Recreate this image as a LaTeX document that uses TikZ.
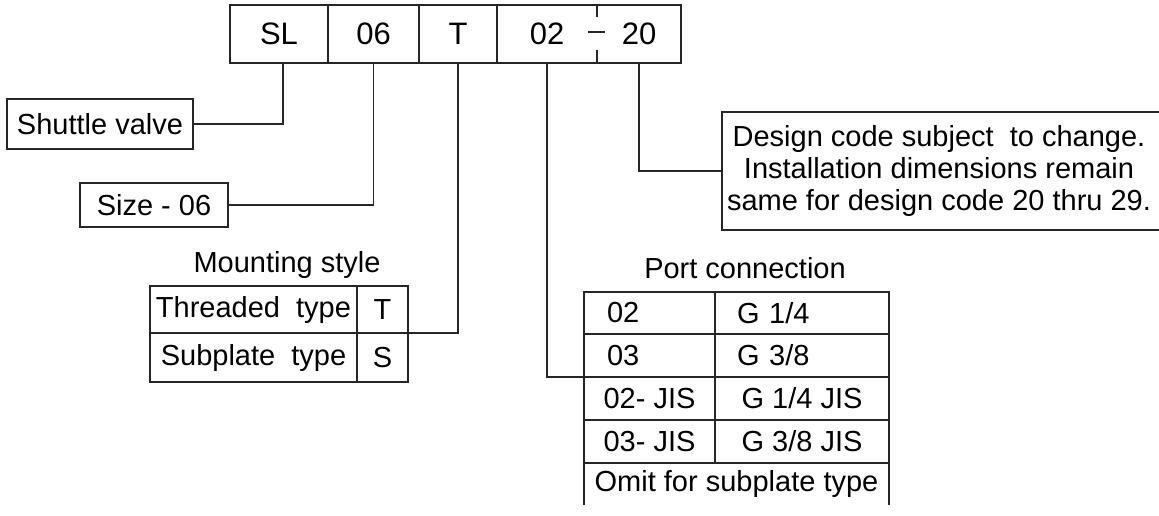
\documentclass[tikz,border=0pt]{standalone}
\usepackage{fontspec}
\setmainfont{Liberation Sans}
\begin{document}
\begin{tikzpicture}[x=0.5pt,y=-0.5pt,
  every node/.style={inner sep=0pt,outer sep=0pt,font=\fontsize{14.5}{16}\selectfont},
  box/.style={draw=black!85,line width=0.65pt},
  codefont/.style={font=\fontsize{15.5}{17}\selectfont},
  conn/.style={draw=black!85,line width=0.65pt}]
\useasboundingbox (0,0) rectangle (1159,515);
\clip (0,0) rectangle (1159,515);
% code boxes
\node[box,codefont,minimum width=49pt,minimum height=29pt] (sl) at (279,34) {SL};
\node[box,codefont,minimum width=45.5pt,minimum height=29pt] (s06) at (373.5,34) {06};
\node[box,codefont,minimum width=39pt,minimum height=29pt] (tc) at (458,34) {T};
\node[box,minimum width=92pt,minimum height=29pt] (c4) at (589,34) {};
\node[codefont,minimum width=50pt,minimum height=29pt] (c02) at (547,34) {02};
\node[codefont,minimum width=42pt,minimum height=29pt] (c20) at (639,34) {20};
\coordinate (dtop) at (597,5);
\coordinate (dbot) at (597,63);
\draw[conn] (dtop) -- ++(0,12);
\draw[conn] (dbot) -- ++(0,-13);
\draw[conn] (588,32) -- (605,32);
% shuttle and size
\node[box,minimum width=93pt,minimum height=25pt] (shuttle) at (100,124) {Shuttle valve};
\node[box,minimum width=74pt,minimum height=22pt] (size) at (154,205) {Size - 06};
% mounting style
\node (mtitle) at (287,265) {Mounting style};
\node[box,minimum width=103.5pt,minimum height=23.5pt] (mt1) at (253.5,309.5) {Threaded\ \ type};
\node[box,minimum width=25.5pt,minimum height=23.5pt] (mt1v) at (382.5,309.5) {T};
\node[box,minimum width=103.5pt,minimum height=24.5pt] (mt2) at (253.5,357.5) {Subplate\ \ type};
\node[box,minimum width=25.5pt,minimum height=24.5pt] (mt2v) at (382.5,357.5) {S};
% port connection
\node (ptitle) at (745,268) {Port connection};
\node[box,minimum height=21pt,text width=42.5pt,inner xsep=11.5pt,align=left] (p1a) at (649.5,313) {02};
\node[box,minimum height=21pt,text width=65pt,inner xsep=11pt,align=left] (p1b) at (802,313) {G 1/4};
\node[box,minimum height=21.5pt,text width=42.5pt,inner xsep=11.5pt,align=left] (p2a) at (649.5,355.5) {03};
\node[box,minimum height=21.5pt,text width=65pt,inner xsep=11pt,align=left] (p2b) at (802,355.5) {G 3/8};
\node[box,minimum height=21.5pt,minimum width=65.5pt] (p3a) at (649.5,398.5) {02- JIS};
\node[box,minimum height=21.5pt,minimum width=87pt] (p3b) at (802,398.5) {G 1/4 JIS};
\node[box,minimum height=21.5pt,minimum width=65.5pt] (p4a) at (649.5,441.5) {03- JIS};
\node[box,minimum height=21.5pt,minimum width=87pt] (p4b) at (802,441.5) {G 3/8 JIS};
\node[minimum height=21pt,minimum width=152.5pt] (p5) at (736.5,484) {Omit for subplate type};
\draw[conn] (p5.north west) -- (p5.south west);
\draw[conn] (p5.north east) -- (p5.south east);
% design code box
\node[box,minimum width=221.5pt,minimum height=59pt] (design) at (943.5,171) {};
\node[align=center] (dtext) at (939,171) {Design code subject\ \ to change.\\Installation dimensions remain\\same for design code 20 thru 29.};
% connectors
\draw[conn] ([xshift=2pt]sl.south) |- (shuttle.east);
\draw[conn] (s06.south) |- (size.east);
\draw[conn] (tc.south) |- (mt1v.south east);
\draw[conn] (c02.south) |- (p3a.north west);
\draw[conn] (c20.south) |- (design.west);
\end{tikzpicture}
\end{document}
